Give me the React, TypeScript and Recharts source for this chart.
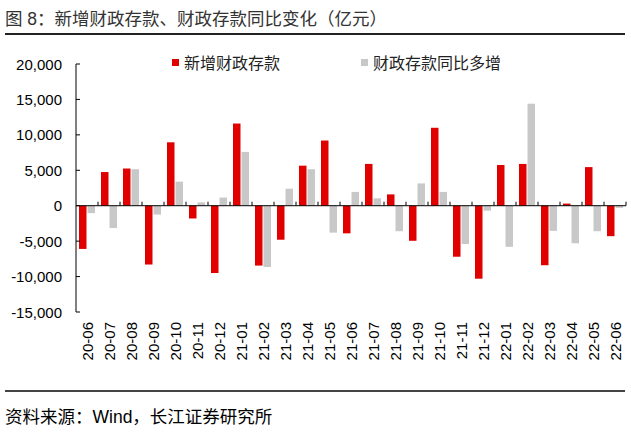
import React from 'react';
import { BarChart, Bar, XAxis, YAxis, ReferenceLine } from 'recharts';

const months = [
  '20-06', '20-07', '20-08', '20-09', '20-10', '20-11', '20-12',
  '21-01', '21-02', '21-03', '21-04', '21-05', '21-06', '21-07', '21-08',
  '21-09', '21-10', '21-11', '21-12',
  '22-01', '22-02', '22-03', '22-04', '22-05', '22-06',
];
// 新增财政存款
const newDeposits = [
  -6100, 4750, 5250, -8300, 8950, -1800, -9500, 11600, -8450, -4800, 5650,
  9200, -3900, 5900, 1600, -4950, 11000, -7200, -10300, 5750, 5900, -8400,
  300, 5450, -4300,
];
// 财政存款同比多增
const yoyChange = [
  -1050, -3150, 5150, -1250, 3400, 470, 1150, 7600, -8650, 2400, 5150,
  -3800, 1950, 1050, -3600, 3150, 1950, -5400, -700, -5800, 14400, -3550,
  -5300, -3600, -300,
];
const yTicks = [-15000, -10000, -5000, 0, 5000, 10000, 15000, 20000];
const seriesNames = ['新增财政存款', '财政存款同比多增'];

const RED = '#e00000';
const GRAY = '#c8c8c8';
const FONT = '"Liberation Sans", Arial, "Noto Sans CJK SC", sans-serif';

const data = months.map((m, i) => ({
  month: m,
  newDeposits: newDeposits[i],
  yoyChange: yoyChange[i],
}));

function MonthTick({ x, y, payload }: any) {
  return (
    <text
      x={0}
      y={0}
      transform={`translate(${x},${y}) rotate(-90)`}
      textAnchor="end"
      dominantBaseline="central"
      fontSize={15}
      fill="#000"
      fontFamily={FONT}
    >
      {payload.value}
    </text>
  );
}

function ValueTick({ x, y, payload }: any) {
  return (
    <g>
      <line x1={x + 14} x2={x + 18} y1={y} y2={y} stroke="#000" />
      <text
        x={x}
        y={y}
        textAnchor="end"
        dominantBaseline="central"
        fontSize={15}
        fill="#000"
        fontFamily={FONT}
      >
        {payload.value.toLocaleString('en-US')}
      </text>
    </g>
  );
}

// zero line with small upward ticks at the category boundaries
function ZeroLine(props: any) {
  const { x1, x2, y1 } = props;
  const n = months.length;
  const step = (x2 - x1) / n;
  return (
    <g>
      <line x1={x1} x2={x2} y1={y1} y2={y1} stroke="#000" strokeWidth={1} />
      {months.map((_, i) => (
        <line
          key={i}
          x1={x1 + (i + 1) * step}
          x2={x1 + (i + 1) * step}
          y1={y1}
          y2={y1 - 4}
          stroke="#000"
        />
      ))}
    </g>
  );
}

export default function App() {
  return (
    <div
      style={{
        position: 'absolute',
        top: 0,
        left: 0,
        width: 631,
        height: 435,
        background: '#fff',
        fontFamily: FONT,
      }}
    >
      <div
        style={{
          position: 'absolute',
          top: 5,
          left: 5,
          fontSize: 17.5,
          color: '#333',
          whiteSpace: 'nowrap',
        }}
      >
        图 8：新增财政存款、财政存款同比变化（亿元）
      </div>
      <div
        style={{
          position: 'absolute',
          top: 33,
          left: 5,
          width: 620,
          height: 1.5,
          background: '#222',
        }}
      />

      <div
        style={{
          position: 'absolute',
          top: 50,
          left: 172,
          display: 'flex',
          alignItems: 'center',
          fontSize: 16,
          color: '#222',
          whiteSpace: 'nowrap',
        }}
      >
        <span style={{ width: 7, height: 7, background: RED, marginRight: 5 }} />
        <span style={{ marginRight: 81 }}>{seriesNames[0]}</span>
        <span style={{ width: 7, height: 7, background: GRAY, marginRight: 5 }} />
        <span>{seriesNames[1]}</span>
      </div>

      <div style={{ position: 'absolute', top: 0, left: 0 }}>
        <BarChart
          width={631}
          height={435}
          data={data}
          margin={{ top: 64, right: 5, left: 0, bottom: 63 }}
          barGap={1}
        >
          <XAxis
            dataKey="month"
            interval={0}
            axisLine={false}
            tickLine={false}
            tickSize={0}
            tickMargin={10}
            height={60}
            tick={<MonthTick />}
          />
          <YAxis
            domain={[-15000, 20000]}
            ticks={yTicks}
            width={76}
            tickSize={0}
            tickMargin={14}
            tickLine={false}
            axisLine={{ stroke: '#000' }}
            tick={<ValueTick />}
            allowDataOverflow
          />
          <Bar
            dataKey="newDeposits"
            name={seriesNames[0]}
            fill={RED}
            barSize={7.5}
            isAnimationActive={false}
          />
          <Bar
            dataKey="yoyChange"
            name={seriesNames[1]}
            fill={GRAY}
            barSize={7.5}
            isAnimationActive={false}
          />
          <ReferenceLine y={0} shape={<ZeroLine />} />
        </BarChart>
      </div>

      <div
        style={{
          position: 'absolute',
          top: 390,
          left: 5,
          width: 620,
          height: 1.5,
          background: '#444',
        }}
      />
      <div
        style={{
          position: 'absolute',
          top: 403,
          left: 5,
          fontSize: 17.5,
          color: '#000',
          whiteSpace: 'nowrap',
        }}
      >
        资料来源：Wind，长江证券研究所
      </div>
    </div>
  );
}
